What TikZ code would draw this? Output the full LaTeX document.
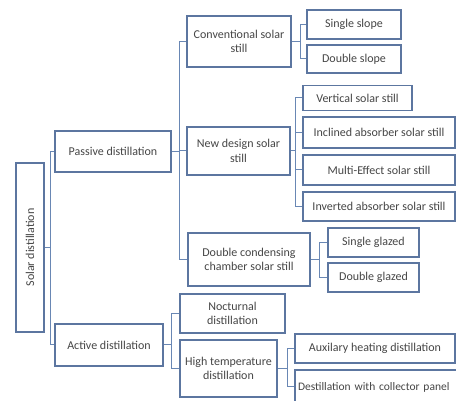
\documentclass[tikz,border=0pt]{standalone}
\usepackage{fontspec}
\setmainfont{Carlito}
\usepackage{graphicx}
\definecolor{edge}{RGB}{92,118,160}
\definecolor{linkc}{RGB}{105,135,180}
\definecolor{txt}{RGB}{70,70,70}
\begin{document}
\begin{tikzpicture}[x=1pt,y=-1pt,
  box/.style={draw=edge,line width=1.1pt,fill=white,align=center,inner sep=1pt,
    text=txt,font=\fontsize{12}{14.5}\selectfont},
  link/.style={draw=linkc,line width=1pt}]
\useasboundingbox (0,0) rectangle (456,401);
\clip (0,0) rectangle (456,401);
\fill[white] (0,0) rectangle (456,401);
% nodes
\node[box,minimum width=28pt,minimum height=169pt] (root) at (30,247.5) {\rotatebox{90}{Solar distillation}};
\node[box,minimum width=116pt,minimum height=41pt] (passive) at (113,151.5) {Passive distillation};
\node[box,minimum width=108pt,minimum height=42pt] (active) at (109,345) {Active distillation};
\node[box,minimum width=104pt,minimum height=51pt] (conv) at (239,41.5) {Conventional solar\\still};
\node[box,minimum width=103pt,minimum height=48pt] (newd) at (238.5,151) {New design solar\\still};
\node[box,minimum width=122pt,minimum height=53pt] (dcc) at (249,259.5) {Double condensing\\chamber solar still};
\node[box,minimum width=94pt,minimum height=29pt] (sslope) at (354,24.5) {Single slope};
\node[box,minimum width=94pt,minimum height=28pt] (dslope) at (354,59) {Double slope};
\node[box,minimum width=109pt,minimum height=25pt] (vert) at (357.5,98) {Vertical solar still};
\node[box,minimum width=152pt,minimum height=31pt] (incl) at (379,132.5) {Inclined absorber solar still};
\node[box,minimum width=152pt,minimum height=30pt] (multi) at (379,170) {Multi-Effect solar still};
\node[box,minimum width=152pt,minimum height=29pt] (inv) at (379,206.5) {Inverted absorber solar still};
\node[box,minimum width=91pt,minimum height=29pt] (sglazed) at (373.5,242.5) {Single glazed};
\node[box,minimum width=91pt,minimum height=29pt] (dglazed) at (373.5,277.5) {Double glazed};
\node[box,minimum width=105pt,minimum height=39pt] (noct) at (232.5,313.5) {Nocturnal\\distillation};
\node[box,minimum width=97pt,minimum height=57pt] (htemp) at (228.5,368.5) {High temperature\\distillation};
\node[box,minimum width=160pt,minimum height=29pt] (aux) at (375,348.5) {Auxilary heating distillation};
\node[box,text width=168pt,align=left,inner xsep=3pt,minimum height=34pt,
  font=\fontsize{11.5}{14}\selectfont] (coll) at (382,387) {Destillation with collector panel};
% connectors
\foreach \c in {passive,active} \draw[link] (root.east) -- ++(6,0) |- (\c.west);
\foreach \c in {conv,newd,dcc} \draw[link] (passive.east) -- ++(8,0) |- (\c.west);
\foreach \c in {sslope,dslope} \draw[link] (conv.east) -- ++(9,0) |- (\c.west);
\foreach \c in {vert,incl,multi,inv} \draw[link] (newd.east) -- ++(5,0) |- (\c.west);
\foreach \c in {sglazed,dglazed} \draw[link] (dcc.east) -- ++(9,0) |- (\c.west);
\foreach \c in {noct,htemp} \draw[link] (active.east) -- ++(8,0) |- (\c.west);
\foreach \c in {aux,coll} \draw[link] (htemp.east) -- ++(10,0) |- (\c.west);
\end{tikzpicture}
\end{document}
